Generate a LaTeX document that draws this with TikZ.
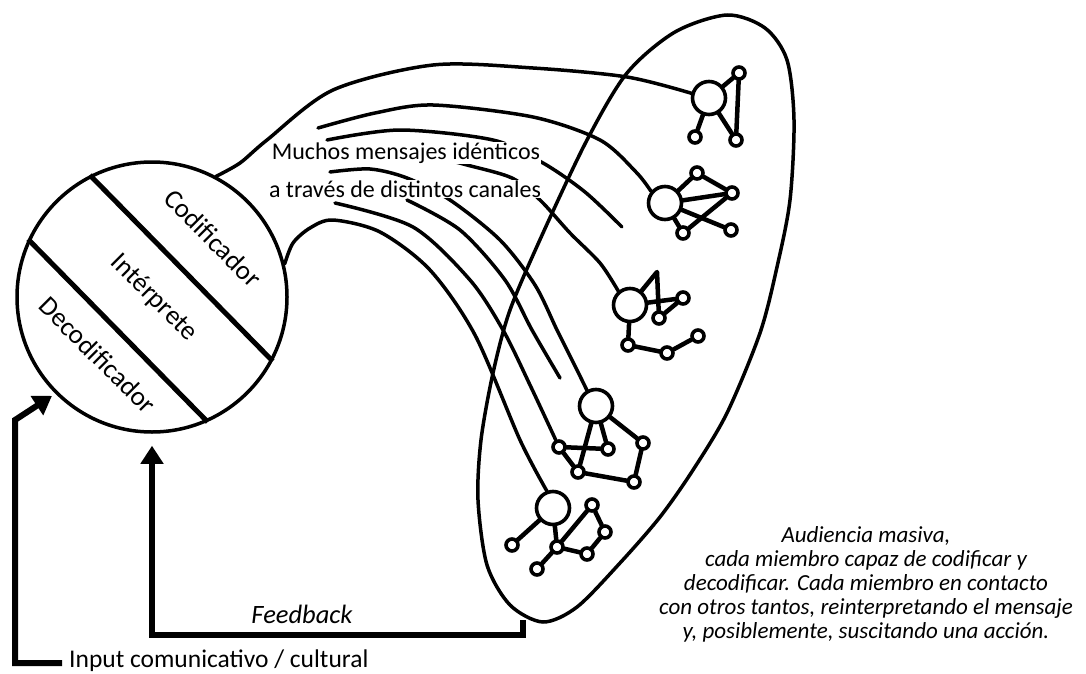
\documentclass[tikz,border=0pt]{standalone}
\usepackage{fontspec}
\setmainfont{Carlito}
\usetikzlibrary{arrows.meta}

\begin{document}
\begin{tikzpicture}[x=1pt, y=-1pt, line join=round, line cap=round,
  flow/.style={line width=3.5pt},
  link/.style={line width=4.5pt},
  member/.style={circle, draw, line width=3.6pt, fill=white, inner sep=0pt, minimum size=12pt},
  leader/.style={member, minimum size=33pt},
  feed/.style={line width=6pt, line cap=butt, line join=miter, -{Triangle[length=18pt,width=22pt]}},
  txt/.style={font=\fontsize{24}{24}\selectfont, inner sep=0pt},
  role/.style={font=\fontsize{27}{27}\selectfont, inner sep=0pt, rotate=-45}]
  \useasboundingbox (0,0) rectangle (1086,674);

  % sender
  \node[circle, draw, line width=3.5pt, minimum size=270pt, inner sep=0pt] (coder) at (152,297) {};
  \draw[line width=5pt, line cap=butt] (coder.117.5) -- (coder.-28);
  \draw[line width=5pt, line cap=butt] (coder.155.8) -- (coder.-66.2);
  \node[role] (cod) at (213,238) {Codificador};
  \node[role] (int) at (154,298) {Intérprete};
  \node[role] (dec) at (98,355) {Decodificador};

  % audience members
  \node[leader] (a1) at (709,98) {};
  \node[member] (a2) at (739,73) {};
  \node[member] (a3) at (695,137) {};
  \node[member] (a4) at (736,140) {};
  \draw[link] (a3) -- (a1) -- (a2) -- (a4) -- (a1);

  \node[leader] (b1) at (665,203) {};
  \node[member] (b2) at (697,173) {};
  \node[member] (b3) at (732,193) {};
  \node[member] (b4) at (683,233) {};
  \node[member] (b5) at (731,230) {};
  \draw[link] (b1) -- (b2) -- (b3) -- (b1) -- (b5);
  \draw[link] (b1) -- (b4) -- (b3);

  \node[leader] (c1) at (630,305) {};
  \coordinate (c0) at (657,272);
  \node[member] (c2) at (683,298) {};
  \node[member] (c3) at (659,318) {};
  \node[member] (c4) at (628,345) {};
  \node[member] (c5) at (667,353) {};
  \node[member] (c6) at (698,336) {};
  \draw[link] (c1) -- (c0) -- (c3) -- (c2) -- (c1);
  \draw[link] (c1) -- (c4) -- (c5) -- (c6);

  \node[leader] (d1) at (596,406) {};
  \node[member] (d2) at (559,447) {};
  \node[member] (d3) at (608,449) {};
  \node[member] (d4) at (643,443) {};
  \node[member] (d5) at (578,472) {};
  \node[member] (d6) at (634,482) {};
  \draw[link] (d3) -- (d1) -- (d4) -- (d6) -- (d5) -- (d1);
  \draw[link] (d2) -- (d3);
  \draw[link] (d2) -- (d5);

  \node[leader] (e1) at (553,508) {};
  \node[member] (e2) at (512,545) {};
  \node[member] (e3) at (557,547) {};
  \node[member] (e4) at (537,569) {};
  \node[member] (e5) at (592,505) {};
  \node[member] (e6) at (605,532) {};
  \node[member] (e7) at (587,554) {};
  \draw[link] (e2) -- (e1) -- (e3) -- (e4);
  \draw[link] (e3) -- (e5) -- (e6) -- (e7) -- (e3);

  % channels
  \draw[flow] plot[smooth] coordinates {(coder.62) (240,163) (267,140) (333,90) (433,65) (533,68) (627,77) (a1.165)};
  \draw[flow] plot[smooth] coordinates {(318,128) (375,113) (433,105) (533,117) (600,140) (636,172) (b1.140)};
  \draw[flow] plot[smooth] coordinates {(327,140) (400,130) (493,140) (543,163) (585,192) (622,227)};
  \draw[flow] plot[smooth] coordinates {(440,158) (467,165) (512,178) (540,200) (570,233) (600,263) (c1.130)};
  \draw[flow] plot[smooth] coordinates {(330,172) (370,169) (407,178) (450,200) (500,240) (535,285) (557,330) (577,370) (d1.120)};
  \draw[flow] plot[smooth] coordinates {(407,200) (460,230) (505,280) (532,330) (560,378)};
  \draw[flow] plot[smooth] coordinates {(335,203) (413,227) (470,280) (503,330) (530,385) (d2.115)};
  \draw[flow] plot[smooth] coordinates {(coder.14) (293,243) (310,228) (333,220) (380,232) (430,270) (475,335) (520,440) (e1.110)};

  % audience
  \draw[flow] plot[smooth cycle] coordinates {(727,15) (765,28) (787,60) (794,120) (790,200) (777,267)
    (760,333) (727,413) (693,470) (660,517) (620,563) (577,607) (543,622) (510,605) (487,565)
    (478,500) (481,440) (493,373) (510,310) (543,233) (587,140) (627,73) (675,32)};

  \node[txt, fill=white, inner sep=1pt] (msg1) at (406,153) {Muchos mensajes idénticos};
  \node[txt, fill=white, inner sep=1pt] (msg2) at (405,189) {a través de distintos canales};
  \node[txt, align=center, font=\fontsize{23}{24}\selectfont\itshape] (crowd) at (866,584)
    {Audiencia masiva,\\cada miembro capaz de codificar y\\decodificar. Cada miembro en contacto\\con otros tantos, reinterpretando el mensaje\\y, posiblemente, suscitando una acción.};

  % feedback and input
  \node[txt, font=\fontsize{26.5}{26.5}\selectfont\itshape] (fb) at (302,614) {Feedback};
  \node[txt, font=\fontsize{25.5}{25.5}\selectfont, anchor=base west] (input) at (69,667) {Input comunicativo / cultural};
  \coordinate (fbstart) at (523,620);
  \coordinate (instart) at (62,663);
  \draw[feed, shorten >=12pt] (fbstart) |- (152,635) -- (coder.south);
  \draw[feed, shorten >=4pt] (instart) -- (15,663) -- (15,420) -- (coder.225);
\end{tikzpicture}
\end{document}
